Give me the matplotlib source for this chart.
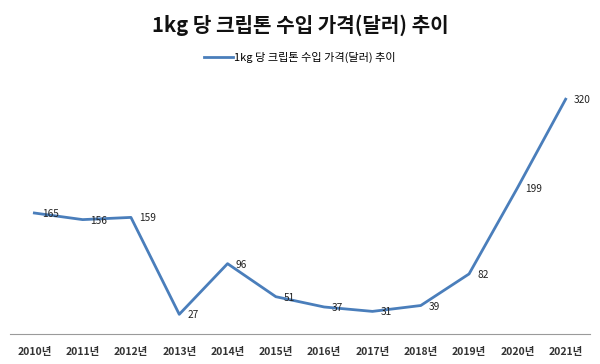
import matplotlib
matplotlib.use("Agg")
import matplotlib.pyplot as plt

plt.rcParams['font.family'] = ['Noto Sans CJK KR', 'DejaVu Sans']

years = ["2010년", "2011년", "2012년", "2013년", "2014년", "2015년",
         "2016년", "2017년", "2018년", "2019년", "2020년", "2021년"]
prices = [165, 156, 159, 27, 96, 51, 37, 31, 39, 82, 199, 320]
title = "1kg 당 크립톤 수입 가격(달러) 추이"

LINE_COLOR = "#4a7ebb"

fig = plt.figure(figsize=(6, 3.64), dpi=100)
ax = fig.add_axes([0.017, 0.082, 0.966, 0.706])

xs = list(range(len(years)))
ax.plot(xs, prices, color=LINE_COLOR, linewidth=2.0, label=title,
        solid_joinstyle='round')

for x, v in zip(xs, prices):
    ax.annotate(str(v), (x, v), xytext=(8, -1), textcoords='offset pixels',
                ha='left', va='center', fontsize=7.3, color='#222222')

ax.set_xlim(-0.5, len(years) - 0.5)
ax.set_ylim(0, 350)
ax.set_xticks(xs)
ax.set_xticklabels(years, fontsize=7.5, fontweight='bold', color='#333333')
ax.tick_params(axis='x', length=0, pad=9)
ax.set_yticks([])
for side in ['top', 'right', 'left']:
    ax.spines[side].set_visible(False)
ax.spines['bottom'].set_color('#9a9a9a')

fig.text(0.5, 0.93, title, ha='center', va='center', fontsize=14.5,
         fontweight='bold', color='#111111')
fig.legend(loc='center', bbox_to_anchor=(0.5, 0.843), frameon=False,
           fontsize=8, handlelength=2.6, handletextpad=0.1)

fig.savefig("out.png", dpi=100)
